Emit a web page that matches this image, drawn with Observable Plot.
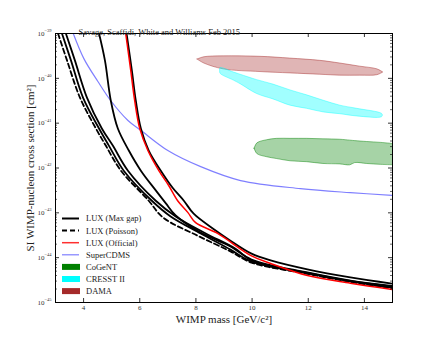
<!DOCTYPE html>
<html><head><meta charset="utf-8">
<script src="https://cdn.jsdelivr.net/npm/d3@7"></script>
<script src="https://cdn.jsdelivr.net/npm/@observablehq/plot@0.6"></script>
<style>body{margin:0;background:#fff}</style>
</head><body>
<div id="chart"></div>
<script>
const titleText = "Savage, Scaffidi, White and Williams Feb 2015";
const xLabel = "WIMP mass [GeV/c²]";
const yLabel = "SI WIMP-nucleon cross section [cm²]";
const xTicks = [4, 6, 8, 10, 12, 14];
const yExponents = [-45, -44, -43, -42, -41, -40, -39];
const legendLabels = ["LUX (Max gap)", "LUX (Poisson)", "LUX (Official)", "SuperCDMS", "CoGeNT", "CRESST II", "DAMA"];

// exclusion curves: [WIMP mass GeV, log10 cross section cm^2]
const luxPoisson = [[3.09,-39.0],[3.41,-39.60],[3.87,-40.43],[4.44,-41.12],[4.79,-41.50],[5.33,-42.06],[6.32,-42.73],[6.82,-43.10],[8.06,-43.51],[9.23,-43.86],[9.98,-44.11],[11.97,-44.36],[13.50,-44.54],[15,-44.68]];
const luxMaxGapA = [[3.23,-39.0],[3.55,-39.60],[3.98,-40.43],[4.55,-41.12],[4.90,-41.50],[5.43,-42.06],[6.43,-42.73],[7.10,-43.08],[8.17,-43.46],[9.23,-43.82],[9.98,-44.09],[11.97,-44.35],[13.50,-44.53],[15,-44.67]];
const luxMaxGapB = [[3.37,-39.0],[3.69,-39.60],[4.12,-40.43],[4.65,-41.12],[5.04,-41.50],[5.58,-42.06],[6.57,-42.73],[7.28,-43.08],[8.35,-43.46],[9.41,-43.80],[9.98,-44.06],[11.97,-44.34],[13.50,-44.52],[15,-44.65]];
const luxMaxGapC = [[4.55,-39.0],[4.76,-39.60],[4.97,-40.50],[5.22,-41.12],[5.61,-41.61],[6.04,-42.06],[6.57,-42.50],[6.93,-42.79],[7.28,-43.06],[8.17,-43.44],[9.23,-43.75],[9.98,-44.04],[11.97,-44.33],[13.50,-44.51],[15,-44.63]];
const luxMaxGapD = [[5.53,-39.0],[5.72,-39.83],[5.86,-40.50],[6.04,-41.12],[6.32,-41.61],[6.75,-42.06],[7.17,-42.44],[7.57,-42.73],[7.92,-43.02],[8.60,-43.35],[9.23,-43.62],[9.98,-43.91],[10.66,-44.06],[11.97,-44.26],[13.50,-44.44],[15,-44.58]];
const luxOfficial = [[5.50,-39.0],[5.68,-39.83],[5.82,-40.50],[6.00,-41.12],[6.29,-41.61],[6.68,-42.06],[7.03,-42.39],[7.35,-42.73],[7.71,-42.99],[7.99,-43.22],[8.77,-43.46],[9.98,-43.96],[10.66,-44.13],[11.97,-44.40],[13.50,-44.57],[15,-44.71]];
const superCDMS = [[3.59,-38.93],[4.01,-39.56],[4.51,-40.07],[4.97,-40.50],[5.58,-40.94],[6.04,-41.16],[7.00,-41.61],[8.17,-41.97],[9.59,-42.28],[11.72,-42.46],[13.50,-42.55],[15,-42.61]];

// signal regions: [mass, log10 lower, log10 upper]
const dama = [[8.06,-39.58,-39.58],[8.30,-39.67,-39.53],[8.99,-39.80,-39.51],[10.30,-39.86,-39.52],[11.36,-39.89,-39.56],[12.43,-39.92,-39.61],[13.14,-39.94,-39.67],[13.85,-39.94,-39.74],[14.46,-39.93,-39.80],[14.67,-39.87,-39.87]];
const cresst = [[8.86,-39.84,-39.80],[8.88,-39.90,-39.77],[9.35,-40.05,-39.87],[9.59,-40.13,-39.92],[10.18,-40.35,-40.04],[10.76,-40.47,-40.14],[11.37,-40.61,-40.27],[11.96,-40.68,-40.38],[12.55,-40.76,-40.50],[13.14,-40.80,-40.61],[13.74,-40.85,-40.68],[14.62,-40.87,-40.79],[14.66,-40.83,-40.83]];
const cogent = [[10.09,-41.57,-41.57],[10.19,-41.69,-41.45],[10.54,-41.76,-41.38],[10.89,-41.80,-41.35],[11.37,-41.85,-41.35],[11.96,-41.87,-41.35],[12.54,-41.91,-41.36],[13.14,-41.92,-41.37],[13.50,-41.94,-41.39],[13.67,-41.89,-41.40],[14.09,-41.91,-41.42],[14.60,-41.93,-41.44],[15.10,-41.94,-41.47]];

const rows = pts => pts.map(([m, l]) => ({m, s: Math.pow(10, l)}));
const bands = pts => pts.map(([m, lo, hi]) => ({m, lo: Math.pow(10, lo), hi: Math.pow(10, hi)}));

const W = 436, H = 337, mL = 55, mR = 44, mT = 33, mB = 35;
const fw = W - mL - mR, fh = H - mT - mB;
const minor = [];
for (let e = -45; e < -39; e++) for (let k = 2; k <= 9; k++) minor.push(k * Math.pow(10, e));
const major = yExponents.map(e => Math.pow(10, e));
const font = "Liberation Serif, DejaVu Serif, serif";

const blackLine = (d, extra = {}) => Plot.line(rows(d), {x: "m", y: "s", stroke: "black", strokeWidth: 1.8, curve: "catmull-rom", clip: true, ...extra});

const svg = Plot.plot({
  width: W, height: H,
  marginLeft: mL, marginRight: mR, marginTop: mT, marginBottom: mB,
  style: {fontFamily: font, background: "white", color: "black"},
  x: {domain: [3, 15], axis: null},
  y: {type: "log", domain: [1e-45, 1e-39], axis: null},
  marks: [
    Plot.areaY(bands(dama), {x: "m", y1: "lo", y2: "hi", fill: "rgba(165,42,42,0.35)", stroke: "rgba(165,42,42,0.45)", strokeWidth: 1, curve: "catmull-rom", clip: true}),
    Plot.areaY(bands(cresst), {x: "m", y1: "lo", y2: "hi", fill: "rgba(0,255,255,0.37)", stroke: "rgba(0,255,255,0.4)", strokeWidth: 1, curve: "catmull-rom", clip: true}),
    Plot.areaY(bands(cogent), {x: "m", y1: "lo", y2: "hi", fill: "rgba(0,128,0,0.35)", stroke: "rgba(0,128,0,0.45)", strokeWidth: 1, curve: "catmull-rom", clip: true}),
    Plot.line(rows(superCDMS), {x: "m", y: "s", stroke: "rgba(0,0,255,0.5)", strokeWidth: 1.2, curve: "catmull-rom", clip: true}),
    blackLine(luxPoisson, {strokeDasharray: "5,3"}),
    blackLine(luxMaxGapA),
    blackLine(luxMaxGapB),
    blackLine(luxMaxGapC),
    blackLine(luxMaxGapD),
    Plot.line(rows(luxOfficial), {x: "m", y: "s", stroke: "red", strokeWidth: 1.5, curve: "catmull-rom", clip: true}),
    Plot.frame({stroke: "black", strokeWidth: 1}),
    Plot.tickX(xTicks, {x: d => d, insetTop: fh - 4, stroke: "black", strokeWidth: 0.8}),
    Plot.tickX(xTicks, {x: d => d, insetBottom: fh - 4, stroke: "black", strokeWidth: 0.8}),
    Plot.tickY(major, {y: d => d, insetRight: fw - 4, stroke: "black", strokeWidth: 0.8}),
    Plot.tickY(major, {y: d => d, insetLeft: fw - 4, stroke: "black", strokeWidth: 0.8}),
    Plot.tickY(minor, {y: d => d, insetRight: fw - 2, stroke: "black", strokeWidth: 0.6}),
    Plot.tickY(minor, {y: d => d, insetLeft: fw - 2, stroke: "black", strokeWidth: 0.6}),
    Plot.text(xTicks, {x: d => d, text: d => String(d), frameAnchor: "bottom", textAnchor: "middle", dy: 7, fontSize: 7, fill: "#333"}),
    Plot.text(yExponents, {y: e => Math.pow(10, e), text: () => "10", frameAnchor: "left", textAnchor: "end", dx: -11, fontSize: 7, fill: "#333"}),
    Plot.text(yExponents, {y: e => Math.pow(10, e), text: e => "\u2212" + Math.abs(e), frameAnchor: "left", textAnchor: "start", dx: -11, dy: -3, fontSize: 4.5, fill: "#333"}),
    Plot.text([titleText], {frameAnchor: "top-left", dx: 23, dy: -5, textAnchor: "start", fontSize: 8.5, fill: "#222"}),
    Plot.text([xLabel], {frameAnchor: "bottom", textAnchor: "middle", dy: 20, fontSize: 11, fill: "#222"}),
    Plot.text([yLabel], {frameAnchor: "left", textAnchor: "middle", dx: -25, rotate: -90, fontSize: 11, fill: "#222"})
  ]
});

// legend
const lg = d3.select(svg).append("g").attr("font-family", font).attr("font-size", 8.5).attr("fill", "#222").attr("text-anchor", "start");
const styles = [
  {type: "line", stroke: "black", w: 2},
  {type: "line", stroke: "black", w: 2, dash: "5,3"},
  {type: "line", stroke: "#ff3030", w: 1.5},
  {type: "line", stroke: "rgba(0,0,255,0.5)", w: 1.2},
  {type: "rect", fill: "#008000"},
  {type: "rect", fill: "#00ffff"},
  {type: "rect", fill: "#a52a2a"}
];
legendLabels.forEach((label, i) => {
  const y = 218.5 + i * 12.1;
  const st = styles[i];
  if (st.type === "line") {
    lg.append("line").attr("x1", 62).attr("x2", 79).attr("y1", y).attr("y2", y)
      .attr("stroke", st.stroke).attr("stroke-width", st.w).attr("stroke-dasharray", st.dash || null);
  } else {
    lg.append("rect").attr("x", 62).attr("y", y - 3).attr("width", 18).attr("height", 6).attr("fill", st.fill);
  }
  lg.append("text").attr("x", 86).attr("y", y).attr("dy", "0.35em").attr("text-anchor", "start").text(label);
});

document.getElementById("chart").appendChild(svg);
</script>
</body></html>
